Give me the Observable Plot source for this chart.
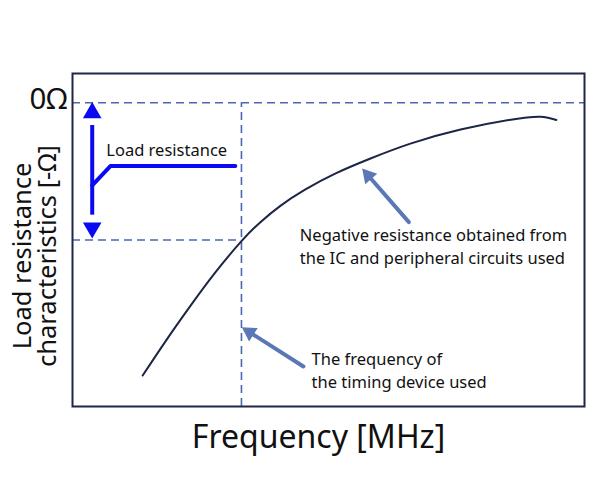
<!DOCTYPE html>
<html>
<head>
<meta charset="utf-8">
<script src="https://cdn.jsdelivr.net/npm/d3@7"></script>
<script src="https://cdn.jsdelivr.net/npm/@observablehq/plot@0.6"></script>
<style>
  html, body { margin: 0; padding: 0; background: #fff; }
  #chart { width: 600px; height: 480px; }
</style>
</head>
<body>
<div id="chart"></div>
<script>
// Curve: negative resistance vs frequency (arbitrary units)
const freq =       [13.7, 18.2, 23.1, 27.9, 33.0, 36.7, 40.6, 45.5, 51.4, 58.2, 66.0, 75.8, 85.6, 91.4, 94.5];
const resistance = [-93.4, -81.6, -69.4, -58.1, -47.4, -40.9, -35.3, -29.7, -24.2, -19.1, -14.0, -9.2, -5.8, -4.8, -5.9];

// Reference levels
const yTicks = [0];
const yTickLabels = ["0Ω"];
const usedFrequency = 33;
const loadResistance = -47;

// Load resistance bracket
const bracketX = [3.85];
const bracketY = [0.2, -46.5];
const leaderX = [3.85, 7.4, 31.8];
const leaderY = [-28.3, -21.7, -21.7];

// Callout arrows (from -> to)
const calloutX1 = [65.7, 45.1];
const calloutY1 = [-40.9, -90.3];
const calloutX2 = [56.6, 33.1];
const calloutY2 = [-22.6, -76.9];

// Annotation texts
const annotations = [
  {x: 6.6, y: -18.1, text: "Load resistance"},
  {x: 44.4, y: -55.2, text: "Negative resistance obtained from\nthe IC and peripheral circuits used"},
  {x: 46.7, y: -97.6, text: "The frequency of\nthe timing device used"}
];
const xTitle = ["Frequency [MHz]"];
const yTitle = ["Load resistance\ncharacteristics [-Ω]"];

const curve = freq.map((f, i) => ({f, r: resistance[i]}));
const leader = leaderX.map((x, i) => ({x, y: leaderY[i]}));
const callouts = calloutX1.map((x1, i) => ({x1, y1: calloutY1[i], x2: calloutX2[i], y2: calloutY2[i]}));

const dash = "#4a68b2";
const blue = "#0a0af2";
const callColor = "#5b77b6";
const font = "Noto Sans, sans-serif";

const plot = Plot.plot({
  width: 600,
  height: 480,
  marginLeft: 72,
  marginRight: 16,
  marginTop: 73,
  marginBottom: 74,
  style: {fontFamily: font, background: "#fff", color: "#111"},
  x: {domain: [0, 100], axis: null},
  y: {domain: [-104, 10], axis: null},
  marks: [
    Plot.axisY({ticks: yTicks, tickFormat: d => yTickLabels[yTicks.indexOf(d)], tickSize: 0, tickPadding: 5,
                fontSize: 29.5, label: null, dy: -3, fill: "#111"}),
    // dashed guides
    Plot.ruleY(yTicks, {stroke: dash, strokeWidth: 1.6, strokeDasharray: "8,5"}),
    Plot.ruleY([loadResistance], {x1: 0, x2: usedFrequency, stroke: dash, strokeWidth: 1.6, strokeDasharray: "8,5"}),
    Plot.ruleX([usedFrequency], {y1: -104, y2: 0, stroke: dash, strokeWidth: 1.6, strokeDasharray: "8,5"}),
    // curve
    Plot.line(curve, {x: "f", y: "r", curve: "natural", stroke: "#1c2545", strokeWidth: 2}),
    // load resistance bracket
    Plot.ruleX(bracketX, {y1: bracketY[0] - 8, y2: bracketY[1] + 8, stroke: blue, strokeWidth: 4}),
    Plot.dot([{x: bracketX[0], y: bracketY[0]}], {x: "x", y: "y", symbol: "triangle", r: 6.9, dy: 10.7, fill: blue, stroke: null}),
    Plot.dot([{x: bracketX[0], y: bracketY[1]}], {x: "x", y: "y", symbol: "triangle", r: 6.9, dy: -10.7, rotate: 180, fill: blue, stroke: null}),
    Plot.line(leader, {x: "x", y: "y", stroke: blue, strokeWidth: 4}),
    // callout arrows: shafts + filled heads
    Plot.arrow(callouts, {x1: "x1", y1: "y1", x2: "x2", y2: "y2", stroke: callColor, strokeWidth: 4, headLength: 0, insetEnd: 9}),
    Plot.dot([callouts[0]], {x: "x2", y: "y2", symbol: "triangle", r: 5.9, rotate: -41, dx: 5.9, dy: 6.8, fill: callColor, stroke: null}),
    Plot.dot([callouts[1]], {x: "x2", y: "y2", symbol: "triangle", r: 5.9, rotate: -57, dx: 7.6, dy: 4.9, fill: callColor, stroke: null}),
    // annotation text
    Plot.text(annotations, {x: "x", y: "y", text: "text", textAnchor: "start", lineAnchor: "bottom", lineHeight: 1.37, fontSize: 16.5, fill: "#111"}),
    // axis titles
    Plot.text(xTitle, {frameAnchor: "bottom", text: d => d, textAnchor: "middle", dx: -10, dy: 41, lineAnchor: "bottom", fontSize: 32, fill: "#111"}),
    Plot.text(yTitle, {frameAnchor: "left", text: d => d, textAnchor: "middle", rotate: -90, dx: -37, dy: 16, lineAnchor: "middle", lineHeight: 1.0, fontSize: 25.5, fill: "#111"}),
    Plot.frame({stroke: "#1e2747", strokeWidth: 2})
  ]
});
document.getElementById("chart").appendChild(plot);
</script>
</body>
</html>
